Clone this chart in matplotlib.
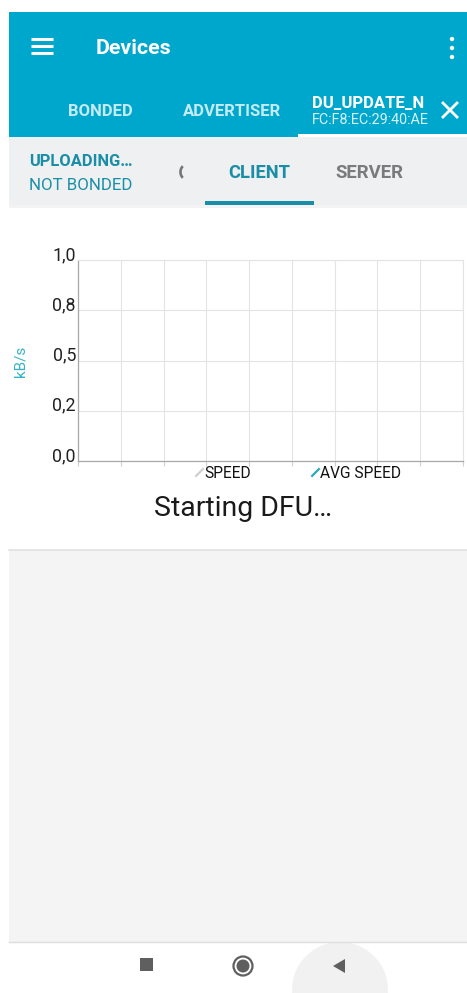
import numpy as np
import matplotlib
matplotlib.use('Agg')
from matplotlib import pyplot as plt
from matplotlib.patches import Rectangle, Circle, Arc, Polygon
from matplotlib.lines import Line2D

plt.rcParams['font.family'] = ['Roboto', 'DejaVu Sans']

# chart data (no samples received yet while DFU is starting)
x_ticks = list(range(10))
y_ticks = [0.0, 0.25, 0.5, 0.75, 1.0]
y_tick_labels = ['0,0', '0,2', '0,5', '0,8', '1,0']
speed_x = []
speed = []
avg_speed_x = []
avg_speed = []
series_names = ['SPEED', 'AVG SPEED']
series_colors = ['#cfcfcf', '#2aa9c4']

# screen texts
title = 'Devices'
tabs = ['BONDED', 'ADVERTISER']
device_name = 'DU_UPDATE_N'
device_mac = 'FC:F8:EC:29:40:AE'
status_top = 'UPLOADING…'
status_bottom = 'NOT BONDED'
sub_tabs = ['CLIENT', 'SERVER']
status_msg = 'Starting DFU…'

BLUE = '#00a7cc'
TEAL = '#1a8ea6'
W, H = 467, 993

fig = plt.figure(figsize=(W / 100, H / 100), dpi=100)
fig.patch.set_facecolor('white')

# background layer in pixel coordinates (y down)
bg = fig.add_axes([0, 0, 1, 1], zorder=0)
bg.set_xlim(0, W)
bg.set_ylim(H, 0)
bg.axis('off')

# header
bg.add_patch(Rectangle((9, 12), W - 9, 125, color=BLUE, lw=0))
for yy in (39, 46, 53):
    bg.plot([31, 53], [yy, yy], color='white', lw=2.2, solid_capstyle='butt')
bg.text(96, 49, title, color='white', fontsize=15.4, fontweight='bold', va='center', ha='left')
for yy in (39, 48, 57):
    bg.add_patch(Circle((452, yy), 2.2, color='white', lw=0))

bg.text(100, 111, tabs[0], color='#c4ebf4', fontsize=12, fontweight='bold', ha='center', va='center')
bg.text(232, 111, tabs[1], color='#c4ebf4', fontsize=12, fontweight='bold', ha='center', va='center')
bg.text(312, 103, device_name, color='white', fontsize=12, fontweight='bold', ha='left', va='center')
bg.text(312, 120, device_mac, color='#d8f2f8', fontsize=10.4, ha='left', va='center')
bg.plot([443, 457], [103, 117], color='white', lw=2)
bg.plot([443, 457], [117, 103], color='white', lw=2)
bg.add_patch(Rectangle((298, 134), W - 298, 3, color='white', lw=0))

# sub bar
bg.add_patch(Rectangle((9, 137), W - 9, 68, color='#eef0f2', lw=0))
bg.text(29, 162, status_top, color=TEAL, fontsize=11.9, fontweight='bold', ha='left', va='center')
bg.text(29, 185, status_bottom, color=TEAL, fontsize=12.2, ha='left', va='center')
bg.add_patch(Arc((185, 172), 9, 13, theta1=110, theta2=250, color='#777777', lw=1.9))
bg.text(259, 173, sub_tabs[0], color=TEAL, fontsize=13.2, fontweight='bold', ha='center', va='center')
bg.text(369, 173, sub_tabs[1], color='#7b7b7b', fontsize=13.4, fontweight='bold', ha='center', va='center')
bg.add_patch(Rectangle((205, 201), 109, 4, color=TEAL, lw=0))
bg.add_patch(Rectangle((9, 205), W - 9, 3, color='#f3f3f3', lw=0))

# lower part
bg.text(243, 508, status_msg, color='#1a1a1a', fontsize=20.4, ha='center', va='center')
bg.add_patch(Rectangle((9, 549), W - 9, 393, color='#f4f4f4', lw=0))
bg.plot([9, W], [549.5, 549.5], color='#e2e2e2', lw=1.2)
bg.plot([9, W], [942, 942], color='#dedede', lw=1)

# navigation bar
bg.add_patch(Circle((340, 990), 48, color='#f1f1f1', lw=0))
bg.add_patch(Rectangle((140, 958), 13, 13, color='#5f5f5f', lw=0))
bg.add_patch(Circle((243, 966), 9.5, facecolor='none', edgecolor='#5f5f5f', lw=1.6))
bg.add_patch(Circle((243, 966), 6.5, color='#5f5f5f', lw=0))
bg.add_patch(Polygon([[345, 959], [345, 973], [333, 966]], closed=True, color='#5f5f5f', lw=0))

bg.text(20, 361, 'kB/s', color='#35b3c8', fontsize=11, rotation=90, ha='center', va='center')

# chart
left, right, top, bottom = 78, 463, 260, 461
ax = fig.add_axes([left / W, 1 - bottom / H, (right - left) / W, (bottom - top) / H], zorder=2)
ax.plot(speed_x, speed, color=series_colors[0], lw=1.5)
ax.plot(avg_speed_x, avg_speed, color=series_colors[1], lw=1.5)
ax.set_xlim(x_ticks[0], x_ticks[-1])
ax.set_ylim(y_ticks[0], y_ticks[-1])
ax.set_xticks(x_ticks)
ax.set_yticks(y_ticks)
ax.set_yticklabels(y_tick_labels)
ax.set_xticklabels([])
ax.grid(True, color='#e4e4e4', lw=0.8)
for s in ('top', 'right'):
    ax.spines[s].set_color('#e4e4e4')
    ax.spines[s].set_linewidth(0.8)
for s in ('left', 'bottom'):
    ax.spines[s].set_color('#a8a8a8')
    ax.spines[s].set_linewidth(0.9)
ax.tick_params(axis='x', length=3.5, width=0.8, color='#d0d0d0', direction='out')
ax.tick_params(axis='y', length=0, pad=1.5, labelsize=12.8, labelcolor='#222222')
for lab in ax.get_yticklabels():
    lab.set_verticalalignment('baseline')

handles = [Line2D([], [], ls='none', marker=[(-1, -1), (1, 1)], ms=6,
                  mec=c, mfc='none', mew=1.6) for c in series_colors]
ax.legend(handles, series_names, loc='center', ncol=2, frameon=False,
          bbox_to_anchor=(298.5 / W, 1 - 473 / H), bbox_transform=fig.transFigure,
          fontsize=11.2, handlelength=0.45, handletextpad=0.1, columnspacing=3.9,
          borderpad=0, labelcolor='#111111')

fig.savefig('out.png', dpi=100, facecolor='white')
